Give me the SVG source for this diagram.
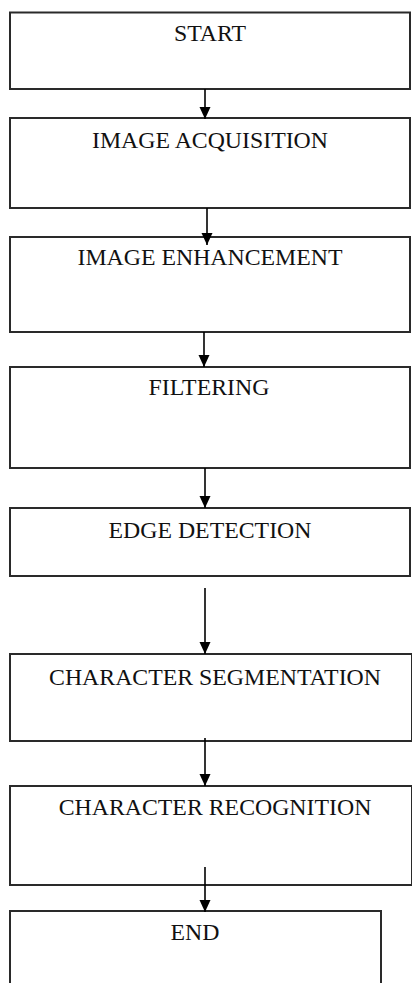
<svg xmlns="http://www.w3.org/2000/svg" width="412" height="983" viewBox="0 0 412 983">
<style>
.box{fill:#fff;stroke:#2a2a2a;stroke-width:2}
.lbl{font-family:"Liberation Serif","Times New Roman",serif;font-size:23.8px;fill:#111;text-anchor:middle}
.conn{stroke:#000;stroke-width:1.6;fill:none;marker-end:url(#ah)}
</style>
<defs>
<marker id="ah" markerUnits="userSpaceOnUse" markerWidth="12" markerHeight="12" viewBox="0 0 12 12" refX="12" refY="6" orient="auto">
<path d="M0,0.5 L12,6 L0,11.5 z" fill="#000"/>
</marker>
</defs>
<rect width="412" height="983" fill="#fff"/>
<g id="start"><rect class="box" x="10" y="12.5" width="400" height="76.5"/><text class="lbl" x="210" y="41">START</text></g>
<g id="acquisition"><rect class="box" x="10" y="118" width="400" height="90"/><text class="lbl" x="210" y="148">IMAGE ACQUISITION</text></g>
<g id="enhancement"><rect class="box" x="10" y="237" width="400" height="95"/><text class="lbl" x="210" y="265">IMAGE ENHANCEMENT</text></g>
<g id="filtering"><rect class="box" x="10" y="367" width="400" height="101"/><text class="lbl" x="209" y="395">FILTERING</text></g>
<g id="edge"><rect class="box" x="10" y="508" width="400" height="68"/><text class="lbl" x="210" y="538">EDGE DETECTION</text></g>
<g id="segmentation"><rect class="box" x="10" y="654" width="402" height="87"/><text class="lbl" x="215" y="685">CHARACTER SEGMENTATION</text></g>
<g id="recognition"><rect class="box" x="10" y="786" width="402" height="99"/><text class="lbl" x="215" y="815">CHARACTER RECOGNITION</text></g>
<g id="end"><rect class="box" x="10" y="911" width="371" height="90"/><text class="lbl" x="195" y="940">END</text></g>
<g id="connectors">
<line class="conn" x1="205" y1="89" x2="205" y2="119"/>
<line class="conn" x1="207" y1="208" x2="207" y2="245"/>
<line class="conn" x1="204" y1="332" x2="204" y2="367"/>
<line class="conn" x1="205" y1="468" x2="205" y2="508"/>
<line class="conn" x1="205" y1="588" x2="205" y2="654"/>
<line class="conn" x1="205" y1="738" x2="205" y2="786"/>
<line class="conn" x1="205" y1="867" x2="205" y2="912"/>
</g>
</svg>
